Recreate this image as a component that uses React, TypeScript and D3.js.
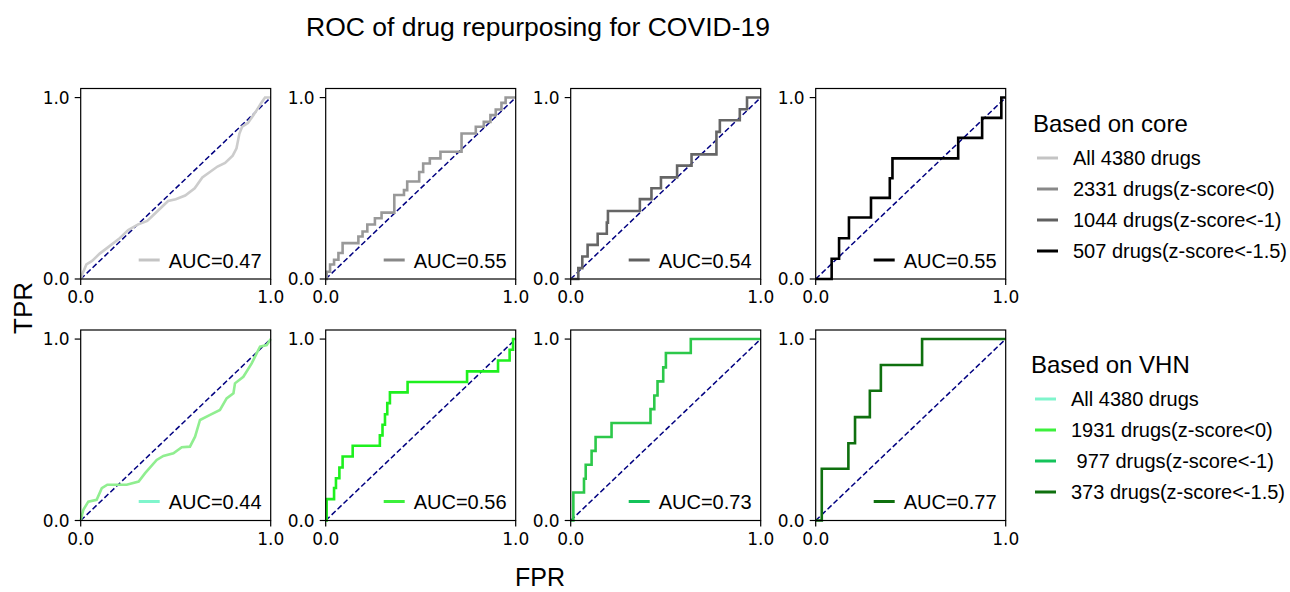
import React from "react";
import * as d3 from "d3";

// ROC points (fpr, tpr)
const coreAllFpr = [0, 0.01, 0.03, 0.06, 0.1, 0.15, 0.2, 0.25, 0.3, 0.35, 0.38, 0.42, 0.46, 0.5, 0.55, 0.6, 0.64, 0.68, 0.72, 0.76, 0.8, 0.82, 0.835, 0.85, 0.88, 0.92, 0.95, 0.97, 1];
const coreAllTpr = [0, 0.03, 0.08, 0.1, 0.14, 0.18, 0.22, 0.27, 0.3, 0.32, 0.35, 0.39, 0.43, 0.44, 0.46, 0.5, 0.56, 0.59, 0.62, 0.64, 0.68, 0.72, 0.8, 0.84, 0.86, 0.92, 0.97, 1, 1];
const core0Fpr = [0, 0.005, 0.023, 0.044, 0.067, 0.089, 0.172, 0.194, 0.219, 0.259, 0.294, 0.361, 0.412, 0.429, 0.492, 0.513, 0.548, 0.604, 0.715, 0.79, 0.832, 0.867, 0.895, 0.925, 0.947, 1];
const core0Tpr = [0, 0.04, 0.08, 0.106, 0.143, 0.198, 0.234, 0.262, 0.3, 0.335, 0.366, 0.463, 0.49, 0.537, 0.59, 0.637, 0.665, 0.701, 0.802, 0.839, 0.866, 0.903, 0.934, 0.971, 1, 1];
const core1Fpr = [0, 0.04, 0.061, 0.089, 0.142, 0.19, 0.196, 0.364, 0.425, 0.475, 0.56, 0.636, 0.767, 0.785, 0.89, 0.928, 1];
const core1Tpr = [0, 0.06, 0.124, 0.188, 0.249, 0.311, 0.375, 0.44, 0.5, 0.56, 0.625, 0.687, 0.811, 0.875, 0.936, 1, 1];
const core15Fpr = [0, 0.084, 0.123, 0.175, 0.291, 0.39, 0.404, 0.75, 0.876, 0.977, 1];
const core15Tpr = [0, 0.112, 0.225, 0.339, 0.447, 0.555, 0.665, 0.778, 0.888, 1, 1];

const vhnAllFpr = [0, 0.014, 0.04, 0.084, 0.111, 0.14, 0.242, 0.305, 0.339, 0.4, 0.435, 0.488, 0.532, 0.575, 0.602, 0.628, 0.681, 0.733, 0.768, 0.804, 0.812, 0.856, 0.9, 0.926, 0.944, 0.979, 1];
const vhnAllTpr = [0, 0.059, 0.104, 0.114, 0.178, 0.197, 0.197, 0.215, 0.261, 0.334, 0.356, 0.371, 0.404, 0.407, 0.462, 0.554, 0.582, 0.609, 0.673, 0.701, 0.756, 0.792, 0.866, 0.921, 0.958, 0.967, 1];
const vhn0Fpr = [0, 0.005, 0.044, 0.054, 0.072, 0.089, 0.142, 0.285, 0.299, 0.312, 0.324, 0.338, 0.431, 0.744, 0.907, 0.968, 0.986, 1];
const vhn0Tpr = [0, 0.118, 0.179, 0.233, 0.292, 0.353, 0.412, 0.469, 0.528, 0.586, 0.647, 0.706, 0.763, 0.822, 0.882, 0.941, 1, 1];
const vhn1Fpr = [0, 0.014, 0.07, 0.079, 0.11, 0.131, 0.215, 0.42, 0.44, 0.457, 0.487, 0.501, 0.632, 1];
const vhn1Tpr = [0, 0.154, 0.23, 0.307, 0.384, 0.46, 0.537, 0.614, 0.689, 0.767, 0.844, 0.923, 1, 1];
const vhn15Fpr = [0, 0.032, 0.172, 0.207, 0.285, 0.343, 0.56, 1];
const vhn15Tpr = [0, 0.285, 0.426, 0.57, 0.715, 0.857, 1, 1];

const aucCore = ["0.47", "0.55", "0.54", "0.55"];
const aucVhn = ["0.44", "0.56", "0.73", "0.77"];
const coreLabels = ["All 4380 drugs", "2331 drugs(z-score<0)", "1044 drugs(z-score<-1)", "507 drugs(z-score<-1.5)"];
const vhnLabels = ["All 4380 drugs", "1931 drugs(z-score<0)", " 977 drugs(z-score<-1)", "373 drugs(z-score<-1.5)"];
const tickValues = [0, 1];

const coreCurveColors = ["#cccccc", "#999999", "#666666", "#000000"];
const coreMarkColors = ["#c4c4c4", "#888888", "#606060", "#000000"];
const vhnCurveColors = ["#90ee90", "#1ef01e", "#2cc84a", "#0f700f"];
const vhnMarkColors = ["#7ff5cc", "#3cf03c", "#14c35a", "#0f700f"];

const colLeft = [80.7, 325.7, 570.7, 815.7];
const rowTop = [88.5, 330];
const pw = 190;
const ph = 190.5;
const font = "'Liberation Sans', Arial, sans-serif";
const tickFont = "'DejaVu Sans', sans-serif";

const rows = [
  {
    curves: [[coreAllFpr, coreAllTpr], [core0Fpr, core0Tpr], [core1Fpr, core1Tpr], [core15Fpr, core15Tpr]],
    stepped: [false, true, true, true],
    auc: aucCore,
    colors: coreCurveColors,
    marks: coreMarkColors,
  },
  {
    curves: [[vhnAllFpr, vhnAllTpr], [vhn0Fpr, vhn0Tpr], [vhn1Fpr, vhn1Tpr], [vhn15Fpr, vhn15Tpr]],
    stepped: [false, true, true, true],
    auc: aucVhn,
    colors: vhnCurveColors,
    marks: vhnMarkColors,
  },
];

function Panel({ x0, y0, fpr, tpr, stepped, color, mark, auc }) {
  const x = d3.scaleLinear().domain([0, 1]).range([x0, x0 + pw]);
  const y = d3.scaleLinear().domain([0, 1.05]).range([y0 + ph, y0]);
  const pts = fpr.map((f, i) => [f, tpr[i]]);
  const line = d3
    .line()
    .x((d) => x(d[0]))
    .y((d) => y(d[1]))
    .curve(stepped ? d3.curveStepAfter : d3.curveLinear);
  const bottom = y0 + ph;
  return (
    <g>
      <line x1={x(0)} y1={y(0)} x2={x(1)} y2={y(1)} stroke="#000080" strokeWidth={1.5} strokeDasharray="5.5,2.7" />
      <path d={line(pts) || ""} fill="none" stroke={color} strokeWidth={2.6} />
      <rect x={x0} y={y0} width={pw} height={ph} fill="none" stroke="#000" strokeWidth={1.2} />
      {tickValues.map((t) => (
        <g key={"x" + t}>
          <line x1={x(t)} x2={x(t)} y1={bottom} y2={bottom + 6} stroke="#000" strokeWidth={1.2} />
          <text x={x(t)} y={bottom + 24} textAnchor="middle" fontFamily={tickFont} fontSize={17}>
            {t.toFixed(1)}
          </text>
          <line x1={x0 - 6} x2={x0} y1={y(t)} y2={y(t)} stroke="#000" strokeWidth={1.2} />
          <text x={x0 - 11} y={y(t)} dy="0.36em" textAnchor="end" fontFamily={tickFont} fontSize={17}>
            {t.toFixed(1)}
          </text>
        </g>
      ))}
      <line x1={x0 + 58} x2={x0 + 79} y1={bottom - 19} y2={bottom - 19} stroke={mark} strokeWidth={3} />
      <text x={x0 + 88} y={bottom - 11.5} fontFamily={font} fontSize={20}>
        {"AUC=" + auc}
      </text>
    </g>
  );
}

function Legend({ x0, y0, title, labels, colors }) {
  return (
    <g>
      <text x={x0} y={y0} fontFamily={font} fontSize={24}>
        {title}
      </text>
      {labels.map((l, i) => (
        <g key={l}>
          <line x1={x0 + 4} x2={x0 + 25} y1={y0 + 26 + i * 31} y2={y0 + 26 + i * 31} stroke={colors[i]} strokeWidth={3} />
          <text x={x0 + 40} y={y0 + 33 + i * 31} fontFamily={font} fontSize={20} style={{ whiteSpace: "pre" }}>
            {l}
          </text>
        </g>
      ))}
    </g>
  );
}

export default function App() {
  return (
    <svg
      width={1290}
      height={592}
      style={{ position: "absolute", left: 0, top: 0, background: "#fff" }}
    >
      <text x={538} y={36} textAnchor="middle" fontFamily={font} fontSize={26.5}>
        ROC of drug repurposing for COVID-19
      </text>
      {rows.map((r, ri) =>
        r.curves.map((c, ci) => (
          <Panel
            key={ri + "-" + ci}
            x0={colLeft[ci]}
            y0={rowTop[ri]}
            fpr={c[0]}
            tpr={c[1]}
            stepped={r.stepped[ci]}
            color={r.colors[ci]}
            mark={r.marks[ci]}
            auc={r.auc[ci]}
          />
        ))
      )}
      <text transform="translate(32,308) rotate(-90)" textAnchor="middle" fontFamily={font} fontSize={26}>
        TPR
      </text>
      <text x={540} y={586} textAnchor="middle" fontFamily={font} fontSize={25}>
        FPR
      </text>
      <Legend x0={1033} y0={132} title="Based on core" labels={coreLabels} colors={coreMarkColors} />
      <Legend x0={1031} y0={373} title="Based on VHN" labels={vhnLabels} colors={vhnMarkColors} />
    </svg>
  );
}
